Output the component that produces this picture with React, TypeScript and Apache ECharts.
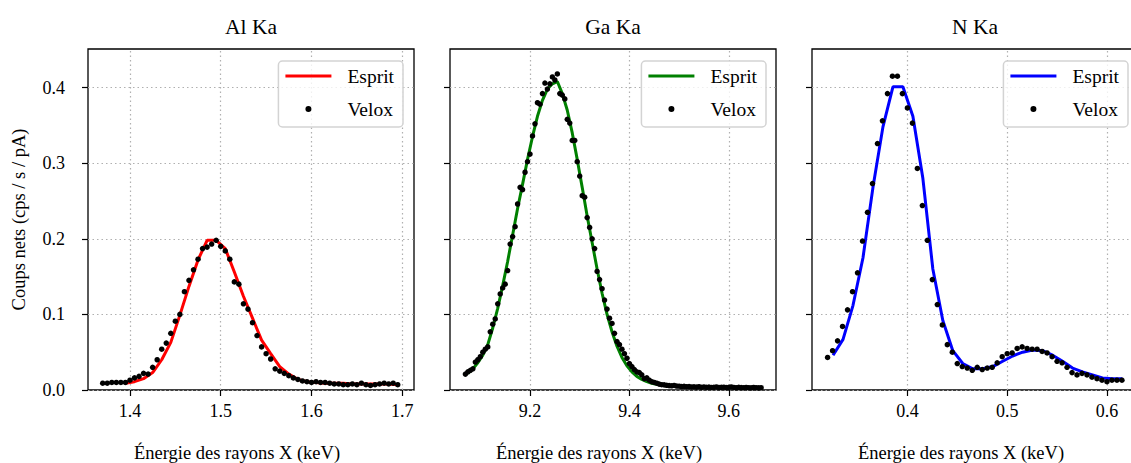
import React, { useEffect, useRef } from "react";
import * as echarts from "echarts";

// ---------- data ----------
const titles = ["Al Ka", "Ga Ka", "N Ka"];
const xTickValues = [
  [1.4, 1.5, 1.6, 1.7],
  [9.2, 9.4, 9.6],
  [0.4, 0.5, 0.6],
];
const xRanges = [
  [1.3538, 1.7129],
  [9.039, 9.695],
  [0.3044, 0.6311],
];
const yTickValues = [0, 0.1, 0.2, 0.3, 0.4];
const lineColors = ["#ff0000", "#008000", "#0000ff"];

const alEspritX = [1.395, 1.405, 1.415, 1.425, 1.435, 1.445, 1.455, 1.465, 1.475, 1.485, 1.495, 1.505, 1.515, 1.525, 1.535, 1.545, 1.555, 1.565, 1.575, 1.585, 1.595, 1.605, 1.615, 1.625, 1.635, 1.645, 1.655, 1.665, 1.675, 1.685, 1.695];
const alEspritY = [0.009, 0.011, 0.015, 0.023, 0.04, 0.063, 0.099, 0.137, 0.172, 0.198, 0.198, 0.187, 0.156, 0.124, 0.095, 0.066, 0.048, 0.031, 0.021, 0.014, 0.011, 0.01, 0.009, 0.009, 0.009, 0.008, 0.008, 0.008, 0.008, 0.008, 0.007];

const alVeloxX = [1.37, 1.375, 1.38, 1.385, 1.39, 1.395, 1.4, 1.405, 1.41, 1.415, 1.42, 1.425, 1.43, 1.435, 1.44, 1.445, 1.45, 1.455, 1.46, 1.465, 1.47, 1.475, 1.48, 1.485, 1.49, 1.495, 1.5, 1.505, 1.51, 1.515, 1.52, 1.525, 1.53, 1.535, 1.54, 1.545, 1.55, 1.555, 1.56, 1.565, 1.57, 1.575, 1.58, 1.585, 1.59, 1.595, 1.6, 1.605, 1.61, 1.615, 1.62, 1.625, 1.63, 1.635, 1.64, 1.645, 1.65, 1.655, 1.66, 1.665, 1.67, 1.675, 1.68, 1.685, 1.69, 1.695];
const alVeloxY = [0.009, 0.009, 0.01, 0.01, 0.01, 0.01, 0.013, 0.016, 0.018, 0.022, 0.021, 0.03, 0.04, 0.054, 0.062, 0.075, 0.091, 0.1, 0.13, 0.145, 0.159, 0.173, 0.187, 0.189, 0.193, 0.198, 0.19, 0.184, 0.173, 0.143, 0.14, 0.114, 0.107, 0.089, 0.072, 0.057, 0.048, 0.041, 0.028, 0.025, 0.022, 0.019, 0.016, 0.014, 0.012, 0.011, 0.01, 0.011, 0.01, 0.01, 0.009, 0.008, 0.008, 0.007, 0.007, 0.008, 0.007, 0.009, 0.007, 0.006, 0.007, 0.008, 0.009, 0.008, 0.009, 0.007];

const gaEspritX = [9.075, 9.085, 9.095, 9.105, 9.115, 9.125, 9.135, 9.145, 9.155, 9.165, 9.175, 9.185, 9.195, 9.205, 9.215, 9.225, 9.235, 9.245, 9.255, 9.265, 9.275, 9.285, 9.295, 9.305, 9.315, 9.325, 9.335, 9.345, 9.355, 9.365, 9.375, 9.385, 9.395, 9.405, 9.415, 9.425, 9.435, 9.445, 9.455, 9.465, 9.475, 9.485, 9.495, 9.505, 9.515, 9.525, 9.535, 9.545, 9.555, 9.565, 9.575, 9.585, 9.595, 9.605, 9.615, 9.625, 9.635, 9.645, 9.655, 9.665];
const gaEspritY = [0.022, 0.028, 0.036, 0.046, 0.06, 0.082, 0.108, 0.138, 0.17, 0.205, 0.24, 0.272, 0.305, 0.335, 0.362, 0.383, 0.398, 0.405, 0.408, 0.392, 0.37, 0.34, 0.305, 0.268, 0.23, 0.195, 0.16, 0.128, 0.1, 0.077, 0.058, 0.043, 0.032, 0.024, 0.018, 0.014, 0.011, 0.009, 0.0075, 0.0065, 0.0058, 0.0052, 0.0048, 0.0045, 0.0042, 0.004, 0.0038, 0.0037, 0.0036, 0.0035, 0.0034, 0.0034, 0.0033, 0.0033, 0.0032, 0.0032, 0.0031, 0.0031, 0.0031, 0.003];

const gaVeloxX = [9.07, 9.075, 9.08, 9.085, 9.09, 9.095, 9.1, 9.105, 9.11, 9.115, 9.12, 9.125, 9.13, 9.135, 9.14, 9.145, 9.15, 9.155, 9.16, 9.165, 9.17, 9.175, 9.18, 9.185, 9.19, 9.195, 9.2, 9.205, 9.21, 9.215, 9.22, 9.225, 9.23, 9.235, 9.24, 9.245, 9.25, 9.255, 9.26, 9.265, 9.27, 9.275, 9.28, 9.285, 9.29, 9.295, 9.3, 9.305, 9.31, 9.315, 9.32, 9.325, 9.33, 9.335, 9.34, 9.345, 9.35, 9.355, 9.36, 9.365, 9.37, 9.375, 9.38, 9.385, 9.39, 9.395, 9.4, 9.405, 9.41, 9.415, 9.42, 9.425, 9.43, 9.435, 9.44, 9.445, 9.45, 9.455, 9.46, 9.465, 9.47, 9.475, 9.48, 9.485, 9.49, 9.495, 9.5, 9.505, 9.51, 9.515, 9.52, 9.525, 9.53, 9.535, 9.54, 9.545, 9.55, 9.555, 9.56, 9.565, 9.57, 9.575, 9.58, 9.585, 9.59, 9.595, 9.6, 9.605, 9.61, 9.615, 9.62, 9.625, 9.63, 9.635, 9.64, 9.645, 9.65, 9.655, 9.66, 9.665];
const gaVeloxY = [0.021, 0.024, 0.026, 0.028, 0.037, 0.04, 0.044, 0.05, 0.054, 0.057, 0.077, 0.087, 0.094, 0.114, 0.127, 0.135, 0.14, 0.158, 0.193, 0.203, 0.216, 0.246, 0.268, 0.265, 0.288, 0.302, 0.312, 0.336, 0.352, 0.38, 0.378, 0.392, 0.406, 0.398, 0.405, 0.414, 0.41, 0.418, 0.392, 0.39, 0.385, 0.358, 0.353, 0.33, 0.33, 0.302, 0.283, 0.257, 0.255, 0.228, 0.215, 0.2, 0.187, 0.157, 0.146, 0.134, 0.119, 0.107, 0.095, 0.088, 0.075, 0.064, 0.06, 0.054, 0.048, 0.042, 0.035, 0.031, 0.027, 0.024, 0.023, 0.02, 0.015, 0.016, 0.013, 0.011, 0.01, 0.009, 0.0078, 0.007, 0.0068, 0.0062, 0.0058, 0.0055, 0.006, 0.0052, 0.005, 0.0046, 0.0048, 0.0044, 0.0045, 0.004, 0.0042, 0.0038, 0.0044, 0.0036, 0.004, 0.0035, 0.0038, 0.0034, 0.0036, 0.004, 0.0033, 0.0035, 0.0037, 0.0032, 0.0036, 0.004, 0.0034, 0.0031, 0.0035, 0.0032, 0.003, 0.0034, 0.0031, 0.0029, 0.0033, 0.003, 0.0028, 0.0031];

const nEspritX = [0.3255, 0.3355, 0.3455, 0.3555, 0.3655, 0.3755, 0.3855, 0.3955, 0.4055, 0.4155, 0.4255, 0.4355, 0.4455, 0.4555, 0.4655, 0.4755, 0.4855, 0.4955, 0.5055, 0.5155, 0.5255, 0.5355, 0.5455, 0.5555, 0.5655, 0.5755, 0.5855, 0.5955, 0.6055, 0.6155];
const nEspritY = [0.046, 0.067, 0.112, 0.175, 0.268, 0.348, 0.401, 0.401, 0.362, 0.28, 0.16, 0.092, 0.052, 0.035, 0.028, 0.028, 0.031, 0.038, 0.045, 0.05, 0.053, 0.052, 0.046, 0.038, 0.029, 0.024, 0.02, 0.016, 0.015, 0.015];

const nVeloxX = [0.32, 0.325, 0.33, 0.335, 0.34, 0.345, 0.35, 0.355, 0.36, 0.365, 0.37, 0.375, 0.38, 0.385, 0.39, 0.395, 0.4, 0.405, 0.41, 0.415, 0.42, 0.425, 0.43, 0.435, 0.44, 0.445, 0.45, 0.455, 0.46, 0.465, 0.47, 0.475, 0.48, 0.485, 0.49, 0.495, 0.5, 0.505, 0.51, 0.515, 0.52, 0.525, 0.53, 0.535, 0.54, 0.545, 0.55, 0.555, 0.56, 0.565, 0.57, 0.575, 0.58, 0.585, 0.59, 0.595, 0.6, 0.605, 0.61, 0.615];
const nVeloxY = [0.043, 0.052, 0.065, 0.084, 0.106, 0.13, 0.155, 0.197, 0.235, 0.273, 0.326, 0.356, 0.392, 0.415, 0.415, 0.392, 0.373, 0.353, 0.293, 0.244, 0.198, 0.146, 0.113, 0.086, 0.06, 0.05, 0.035, 0.031, 0.029, 0.026, 0.03, 0.027, 0.029, 0.03, 0.036, 0.044, 0.048, 0.049, 0.055, 0.057, 0.055, 0.054, 0.054, 0.051, 0.049, 0.044, 0.038, 0.036, 0.03, 0.023, 0.02, 0.022, 0.02, 0.017, 0.015, 0.013, 0.011, 0.013, 0.013, 0.013];

const espritSets = [
  [alEspritX, alEspritY],
  [gaEspritX, gaEspritY],
  [nEspritX, nEspritY],
];
const veloxSets = [
  [alVeloxX, alVeloxY],
  [gaVeloxX, gaVeloxY],
  [nVeloxX, nVeloxY],
];
const panelKeys = ["Al", "Ga", "N"];

// ---------- layout ----------
const FONT = "Liberation Serif";
const CHART_W = 1140;
const CHART_H = 463;
const gridLefts = [88, 450, 812];
const GRID_TOP = 49;
const GRID_W = 326;
const GRID_H = 341;
const legendRightEdges = [403, 766, 1128];
const GRID_COLOR = "#b0b0b0";

const zip = (xs: number[], ys: number[]) => xs.map((x, i) => [x, ys[i]]);

const LINE_ICON = "path://M0 0H46V3H0Z";
const DOT_ICON =
  "path://M0 0h0.01v0.01h-0.01z M45.99 19.99h0.01v0.01h-0.01z M20 10a3 3 0 1 0 6 0a3 3 0 1 0 -6 0z";

function buildOption() {
  const dotted = { color: GRID_COLOR, width: 1.2, type: [1.5, 3] };
  const tickLine = { color: "#000", width: 1.2 };
  const xFmt = (v: number) =>
    Math.abs(v * 10 - Math.round(v * 10)) > 1e-6 ? "" : v.toFixed(1);
  const yFmt = (v: number) => (v > 0.42 ? "" : v.toFixed(1));
  const labelStyle = { fontSize: 18, fontFamily: FONT, color: "#000" };

  const grid = gridLefts.map((left) => ({
    left,
    top: GRID_TOP,
    width: GRID_W,
    height: GRID_H,
    show: true,
    borderColor: "#000",
    borderWidth: 1.3,
    backgroundColor: "transparent",
    containLabel: false,
    outerBoundsMode: "none",
  }));

  const xAxis = [0, 1, 2].map((i) => ({
    gridIndex: i,
    type: "value",
    min: xRanges[i][0],
    max: xRanges[i][1],
    axisLine: { show: false },
    axisTick: { show: true, length: 6, lineStyle: tickLine, customValues: xTickValues[i] },
    axisLabel: {
      ...labelStyle,
      customValues: xTickValues[i],
      formatter: xFmt,
      margin: 12,
    },
    splitLine: { show: false },
    name: "Énergie des rayons X (keV)",
    nameLocation: "middle",
    nameGap: 53,
    nameTextStyle: { ...labelStyle, fontSize: 18.5, padding: [0, 28, 0, 0] },
  }));

  const yAxis = [0, 1, 2].map((i) => ({
    gridIndex: i,
    type: "value",
    min: 0,
    max: 0.451,
    axisLine: { show: false },
    axisTick: { show: true, length: 6, lineStyle: tickLine, customValues: yTickValues },
    axisLabel: {
      ...labelStyle,
      show: i === 0,
      customValues: yTickValues,
      formatter: yFmt,
      margin: 23,
    },
    splitLine: { show: true, lineStyle: dotted },
    name: i === 0 ? "Coups nets (cps / s / pA)" : "",
    nameLocation: "middle",
    nameGap: 60,
    nameTextStyle: { ...labelStyle, fontSize: 18.5 },
  }));

  const series: any[] = [];
  [0, 1, 2].forEach((i) => {
    series.push({
      name: "Esprit|" + panelKeys[i],
      type: "line",
      xAxisIndex: i,
      yAxisIndex: i,
      data: zip(espritSets[i][0], espritSets[i][1]),
      symbol: "none",
      showSymbol: false,
      lineStyle: { color: lineColors[i], width: 3 },
      itemStyle: { color: lineColors[i] },
      z: 2,
      markLine: {
        silent: true,
        z: 1,
        symbol: ["none", "none"],
        label: { show: false },
        emphasis: { disabled: true },
        lineStyle: dotted,
        data: xTickValues[i].map((v) => ({ xAxis: v })),
      },
    });
    series.push({
      name: "Velox|" + panelKeys[i],
      type: "scatter",
      xAxisIndex: i,
      yAxisIndex: i,
      data: zip(veloxSets[i][0], veloxSets[i][1]),
      symbol: "circle",
      symbolSize: 5.5,
      itemStyle: { color: "#000", opacity: 1 },
      z: 3,
    });
  });

  const legend = [0, 1, 2].map((i) => ({
    orient: "vertical",
    right: CHART_W - legendRightEdges[i],
    top: 61,
    selectedMode: false,
    padding: [5, 9, 8, 7],
    itemGap: 13,
    itemWidth: 46,
    itemHeight: 20,
    backgroundColor: "rgba(255,255,255,0.8)",
    borderColor: "#d3d3d3",
    borderWidth: 1.5,
    borderRadius: 4,
    itemStyle: { borderWidth: 0 },
    textStyle: { fontSize: 19.5, fontFamily: FONT, color: "#000", padding: [0, 0, 0, 11] },
    formatter: (name: string) => name.split("|")[0],
    data: [
      { name: "Esprit|" + panelKeys[i], icon: LINE_ICON, itemStyle: { color: lineColors[i], borderWidth: 0, opacity: 1 } },
      { name: "Velox|" + panelKeys[i], icon: DOT_ICON, itemStyle: { color: "#000", borderWidth: 0, opacity: 1 } },
    ],
  }));

  const graphic = titles.map((t, i) => ({
    type: "text",
    x: gridLefts[i] + GRID_W / 2,
    y: 27,
    style: {
      text: t,
      align: "center",
      verticalAlign: "middle",
      fontSize: 21.5,
      fontFamily: FONT,
      fill: "#000",
    },
  }));

  return {
    animation: false,
    backgroundColor: "#fff",
    grid,
    xAxis,
    yAxis,
    series,
    legend,
    graphic,
  };
}

export default function App() {
  const ref = useRef<HTMLDivElement>(null);
  useEffect(() => {
    if (!ref.current) return;
    const chart = echarts.init(ref.current, undefined, { renderer: "svg" });
    chart.setOption(buildOption() as any);
    return () => chart.dispose();
  }, []);
  return (
    <div
      ref={ref}
      style={{ position: "fixed", left: 0, top: 0, width: CHART_W, height: CHART_H }}
    />
  );
}
